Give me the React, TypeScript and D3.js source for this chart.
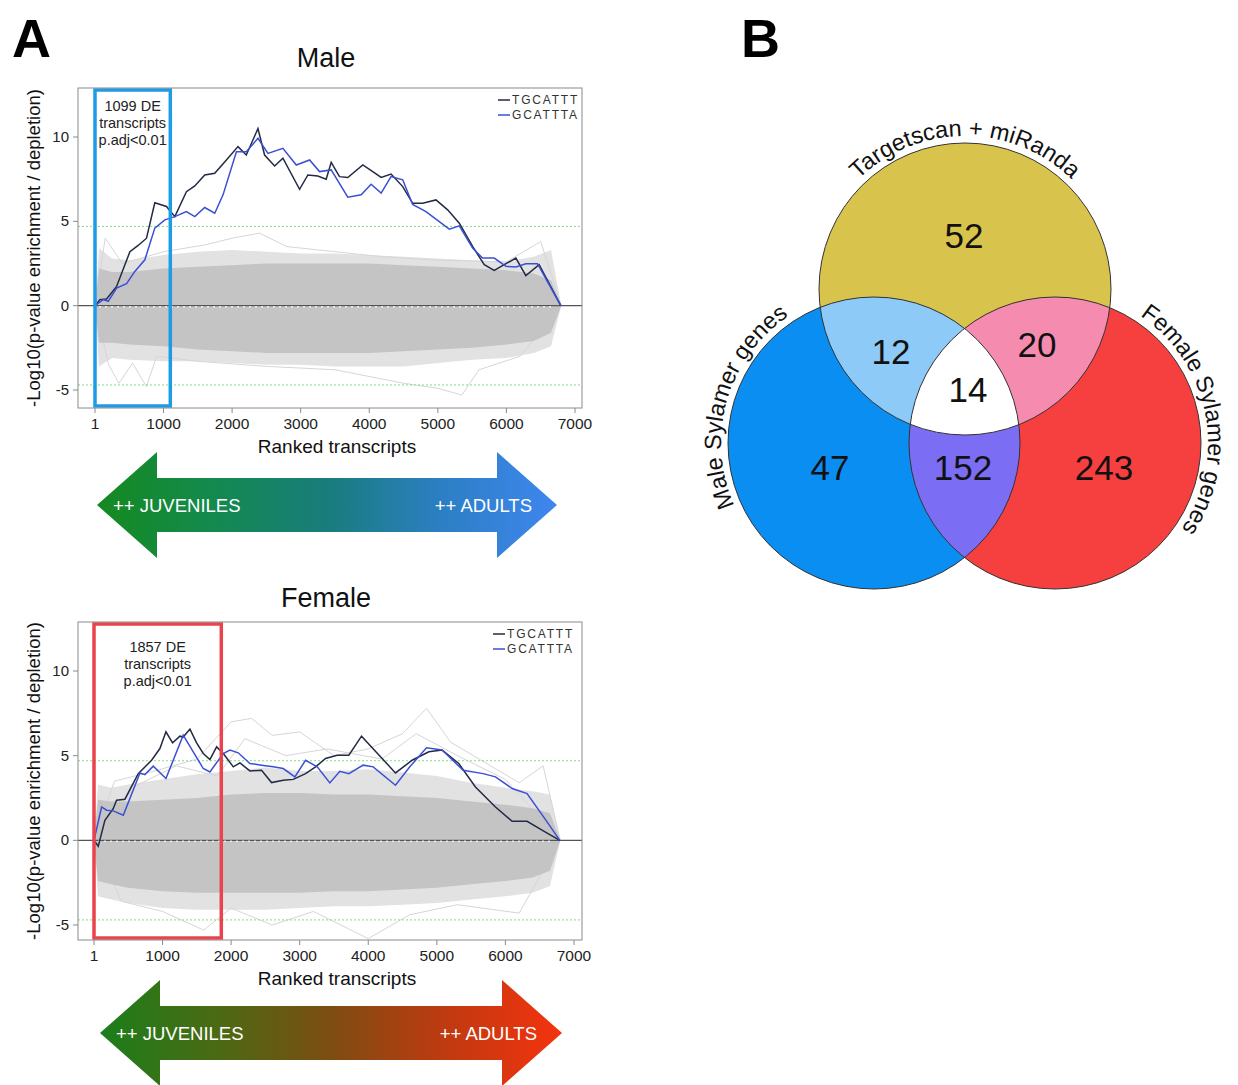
import React, { useRef, useEffect } from 'react';
import * as d3 from 'd3';

// ---- Sylamer curves as [rank, -log10 p] pairs ----
const maleTGCATTT: [number, number][] = [
  [1, 0], [73, 0.36], [170, 0.4], [316, 1.14], [510, 3.2], [630, 3.57], [752, 4.0], [873, 6.1],
  [1043, 5.88], [1165, 5.28], [1334, 6.76], [1456, 7.1], [1601, 7.75], [1747, 7.85], [1917, 8.64],
  [2086, 9.43], [2207, 8.93], [2377, 10.5], [2474, 8.93], [2620, 8.28], [2741, 8.74], [2984, 6.9],
  [3105, 7.75], [3250, 7.69], [3372, 7.5], [3445, 8.5], [3566, 7.65], [3687, 7.6], [3906, 8.34],
  [4051, 7.95], [4173, 7.6], [4318, 7.8], [4488, 7.06], [4633, 6.07], [4779, 6.07], [4973, 6.27],
  [5143, 5.68], [5313, 4.89], [5507, 3.51], [5677, 2.43], [5822, 2.09], [5968, 2.43], [6138, 2.82],
  [6283, 1.78], [6477, 2.43], [6793, 0],
];
const maleGCATTTA: [number, number][] = [
  [1, 0], [120, 0.36], [194, 0.26], [316, 1.04], [461, 1.3], [582, 2.03], [728, 2.72], [873, 4.6],
  [1019, 5.09], [1165, 5.28], [1334, 5.58], [1456, 5.28], [1601, 5.82], [1747, 5.48], [1868, 6.57],
  [2063, 9.13], [2207, 9.13], [2377, 9.92], [2523, 9.03], [2741, 9.33], [2936, 8.34], [3130, 8.64],
  [3275, 7.95], [3445, 8.05], [3687, 6.43], [3882, 6.57], [4027, 7.2], [4173, 6.67], [4318, 7.65],
  [4488, 7.46], [4633, 6.0], [4827, 5.58], [5167, 4.54], [5313, 4.73], [5507, 3.41], [5652, 2.82],
  [5822, 2.82], [5992, 2.33], [6138, 2.29], [6283, 2.49], [6453, 2.49], [6793, 0],
];
const femaleTGCATTT: [number, number][] = [
  [1, 0], [63, -0.35], [160, 1.18], [281, 1.87], [330, 2.37], [452, 2.43], [646, 3.94], [841, 4.73],
  [962, 5.42], [1050, 6.41], [1147, 5.76], [1254, 6.15], [1302, 6.1], [1400, 6.57], [1497, 5.76],
  [1594, 5.13], [1691, 4.77], [1789, 5.52], [1886, 5.13], [2032, 4.34], [2129, 4.57], [2274, 4.1],
  [2444, 4.14], [2590, 3.41], [2760, 3.55], [2906, 3.6], [3086, 3.94], [3232, 4.34], [3377, 4.83],
  [3547, 5.03], [3717, 5.03], [3902, 6.15], [4397, 3.98], [4640, 4.73], [4883, 5.23], [5077, 5.33],
  [5320, 4.54], [5563, 3.15], [5855, 1.97], [6098, 1.12], [6316, 1.12], [6584, 0.49], [6793, 0],
];
const femaleGCATTTA: [number, number][] = [
  [1, 0], [112, 1.97], [185, 1.78], [281, 1.74], [428, 1.48], [671, 3.98], [743, 3.88], [865, 4.38],
  [1050, 3.65], [1302, 6.21], [1448, 5.23], [1594, 4.24], [1691, 4.04], [1886, 5.13], [1983, 5.33],
  [2104, 5.17], [2274, 4.54], [2444, 4.44], [2614, 4.34], [2760, 4.24], [2930, 3.75], [3086, 4.73],
  [3256, 4.34], [3440, 3.39], [3586, 4.08], [3717, 3.94], [3926, 4.44], [4072, 4.34], [4397, 3.25],
  [4606, 4.34], [4849, 5.46], [5077, 5.33], [5383, 4.14], [5675, 3.94], [5855, 3.75], [6098, 3.06],
  [6316, 2.76], [6574, 1.28], [6793, 0],
];

// ---- background words: envelope of the grey cloud ----
const bandRanks = [1, 60, 250, 500, 1000, 1500, 2000, 2500, 3000, 3500, 4000, 4500, 5000, 5500, 6000, 6400, 6650, 6800];
const maleCoreUp = [0, 2.2, 2.0, 2.0, 2.2, 2.3, 2.4, 2.5, 2.5, 2.5, 2.5, 2.4, 2.3, 2.2, 2.1, 1.9, 1.5, 0];
const maleCoreLow = [0, -2.2, -2.2, -2.3, -2.4, -2.6, -2.7, -2.8, -2.8, -2.8, -2.8, -2.7, -2.6, -2.5, -2.3, -2.1, -1.6, 0];
const maleHaloUp = [0, 3.4, 2.8, 2.7, 3.0, 3.2, 3.3, 3.2, 3.1, 3.1, 3.0, 2.9, 2.8, 2.7, 2.6, 2.9, 3.3, 0];
const maleHaloLow = [0, -3.6, -3.1, -3.2, -3.3, -3.3, -3.4, -3.5, -3.5, -3.6, -3.6, -3.6, -3.4, -3.2, -3.1, -2.8, -2.4, 0];
const femaleCoreUp = [0, 2.4, 2.3, 2.3, 2.4, 2.5, 2.7, 2.8, 2.8, 2.7, 2.7, 2.6, 2.5, 2.3, 2.1, 1.9, 1.6, 0];
const femaleCoreLow = [0, -2.4, -2.6, -2.8, -3.0, -3.1, -3.1, -3.1, -3.1, -3.0, -3.0, -2.9, -2.8, -2.6, -2.4, -2.2, -1.8, 0];
const femaleHaloUp = [0, 3.3, 3.1, 3.3, 3.6, 3.9, 4.1, 4.3, 4.1, 4.1, 4.2, 4.0, 3.8, 3.4, 3.1, 2.9, 2.7, 0];
const femaleHaloLow = [0, -3.3, -3.5, -3.7, -4.0, -4.1, -4.1, -4.1, -4.0, -3.9, -3.9, -3.8, -3.7, -3.5, -3.3, -3.1, -2.7, 0];

// a few stray grey words that stick out of the cloud
const maleOutliers: [number, number][][] = [
  [[1, 0], [150, 4.0], [400, 2.5], [1000, 3.2], [1600, 3.6], [2000, 4.0], [2400, 4.3], [2800, 3.5], [3500, 3.2], [4200, 2.9], [5000, 2.7], [6000, 2.6], [6500, 3.8], [6800, 0]],
  [[1, 0], [200, -3.5], [350, -4.6], [550, -3.4], [750, -4.8], [900, -3.0], [1500, -3.3], [2500, -3.6], [3500, -3.8], [4500, -4.6], [5000, -4.9], [5350, -5.3], [5600, -3.8], [6200, -3.0], [6800, 0]],
];
const femaleOutliers: [number, number][][] = [
  [[1, 0], [300, 3.5], [800, 4.0], [1500, 4.8], [2000, 7.0], [2300, 7.2], [2600, 6.2], [3000, 6.4], [3500, 5.0], [4000, 5.4], [4500, 6.3], [4850, 7.8], [5200, 5.8], [5700, 4.6], [6200, 3.4], [6550, 4.4], [6800, 0]],
  [[1, 0], [600, 3.2], [1200, 4.4], [1800, 3.8], [2200, 6.0], [2800, 5.0], [3400, 5.4], [4200, 4.8], [4700, 6.3], [5300, 5.0], [6000, 3.6], [6800, 0]],
  [[1, 0], [400, -3.6], [1000, -4.2], [1600, -5.3], [2000, -4.0], [2600, -5.0], [3200, -4.2], [3700, -5.2], [4000, -5.8], [4600, -4.4], [5300, -3.8], [6200, -4.3], [6800, 0]],
];

const xTicks = [1, 1000, 2000, 3000, 4000, 5000, 6000, 7000];
const yTicks = [-5, 0, 5, 10];
const seriesNames = ['TGCATTT', 'GCATTTA'];
const seriesColors = ['#232a45', '#3a4fd6'];
const maleDE = 1099;
const femaleDE = 1857;

// ---- Venn ----
const vennNames = ['Targetscan + miRanda', 'Male Sylamer genes', 'Female Sylamer genes'];
// order: T only, T∩M, T∩F, all three, M only, M∩F, F only
const vennCounts = [52, 12, 20, 14, 47, 152, 243];

const FONT = '"Liberation Sans", Arial, sans-serif';

const App = () => {
  const svgRef = useRef(null);

  useEffect(() => {
    const svg = d3.select(svgRef.current);
    svg.selectAll('*').remove();
    const defs = svg.append('defs');

    const drawPanel = (p) => {
      const g = svg.append('g');
      const x = d3.scaleLinear().domain([1, 7000]).range(p.xRange);
      const y = d3.scaleLinear().domain([-5, 10]).range(p.yRange);
      const f = p.frame;

      g.append('text').attr('x', 326).attr('y', p.titleY).attr('text-anchor', 'middle')
        .attr('font-size', 27).attr('fill', '#111').text(p.title);

      // grey cloud
      const area = d3.area<number>().x((d, i) => x(bandRanks[i]));
      g.append('path').attr('fill', '#e2e2e2')
        .attr('d', area.y0((d, i) => y(p.haloLow[i])).y1((d, i) => y(p.haloUp[i]))(bandRanks));
      const line = d3.line<[number, number]>().x((d) => x(d[0])).y((d) => y(d[1]));
      p.outliers.forEach((o) => {
        g.append('path').attr('d', line(o)).attr('fill', 'none').attr('stroke', '#d6d6d6').attr('stroke-width', 1);
      });
      g.append('path').attr('fill', '#c4c4c4')
        .attr('d', area.y0((d, i) => y(p.coreLow[i])).y1((d, i) => y(p.coreUp[i]))(bandRanks));

      // threshold lines
      [4.7, -4.7].forEach((v) => {
        g.append('line').attr('x1', f.x0).attr('x2', f.x1).attr('y1', y(v)).attr('y2', y(v))
          .attr('stroke', '#7ee07e').attr('stroke-width', 1).attr('stroke-dasharray', '2,2');
      });
      g.append('line').attr('x1', f.x0).attr('x2', f.x1).attr('y1', y(0)).attr('y2', y(0))
        .attr('stroke', '#555').attr('stroke-width', 1.2);
      g.append('line').attr('x1', x(60)).attr('x2', x(6700)).attr('y1', y(0) + 1).attr('y2', y(0) + 1)
        .attr('stroke', '#ffffff').attr('stroke-width', 1.5).attr('stroke-dasharray', '2,4').attr('opacity', 0.8);

      // series
      p.series.forEach((s, i) => {
        g.append('path').attr('d', line(s)).attr('fill', 'none')
          .attr('stroke', seriesColors[i]).attr('stroke-width', 1.5);
      });

      // DE box
      g.append('rect').attr('x', x(1)).attr('y', f.y0 + 2)
        .attr('width', x(p.de) - x(1)).attr('height', f.y1 - f.y0 - 4)
        .attr('fill', 'none').attr('stroke', p.boxColor).attr('stroke-width', 3.5);
      const cx = (x(1) + x(p.de)) / 2;
      [`${p.de} DE`, 'transcripts', 'p.adj<0.01'].forEach((t, i) => {
        g.append('text').attr('x', cx).attr('y', p.boxTextY + i * 17).attr('text-anchor', 'middle')
          .attr('font-size', 14.5).attr('fill', '#222').text(t);
      });

      // frame + axes
      g.append('rect').attr('x', f.x0).attr('y', f.y0).attr('width', f.x1 - f.x0).attr('height', f.y1 - f.y0)
        .attr('fill', 'none').attr('stroke', '#8a8a8a').attr('stroke-width', 1);
      yTicks.forEach((t) => {
        g.append('line').attr('x1', f.x0 - 5).attr('x2', f.x0).attr('y1', y(t)).attr('y2', y(t)).attr('stroke', '#8a8a8a');
        g.append('text').attr('x', f.x0 - 9).attr('y', y(t) + 5).attr('text-anchor', 'end')
          .attr('font-size', 15).attr('fill', '#222').text(t);
      });
      xTicks.forEach((t) => {
        g.append('line').attr('x1', x(t)).attr('x2', x(t)).attr('y1', f.y1).attr('y2', f.y1 + 5).attr('stroke', '#8a8a8a');
        g.append('text').attr('x', x(t)).attr('y', f.y1 + 21).attr('text-anchor', 'middle')
          .attr('font-size', 15.5).attr('fill', '#222').text(t);
      });
      g.append('text').attr('x', 337).attr('y', f.y1 + 45).attr('text-anchor', 'middle')
        .attr('font-size', 19).attr('fill', '#111').text('Ranked transcripts');
      g.append('text').attr('transform', `translate(40,${(f.y0 + f.y1) / 2}) rotate(-90)`)
        .attr('text-anchor', 'middle').attr('font-size', 18.5).attr('fill', '#111')
        .text('-Log10(p-value enrichment / depletion)');

      // legend
      seriesNames.forEach((n, i) => {
        const ly = p.legendY + i * 15;
        g.append('line').attr('x1', p.legendX).attr('x2', p.legendX + 12).attr('y1', ly).attr('y2', ly)
          .attr('stroke', seriesColors[i]).attr('stroke-width', 1.5);
        g.append('text').attr('x', p.legendX + 14).attr('y', ly + 4).attr('font-size', 12)
          .attr('letter-spacing', 1.8).attr('fill', '#333').text(n);
      });

      // double arrow
      const a = p.arrow;
      const grad = defs.append('linearGradient').attr('id', p.gradId).attr('gradientUnits', 'userSpaceOnUse')
        .attr('x1', a.x0).attr('x2', a.x1).attr('y1', 0).attr('y2', 0);
      p.gradStops.forEach((c, i) => {
        grad.append('stop').attr('offset', i / (p.gradStops.length - 1)).attr('stop-color', c);
      });
      const pts = [
        [a.x0, a.cy], [a.x0 + 60, a.cy - 53], [a.x0 + 60, a.cy - 27], [a.x1 - 60, a.cy - 27], [a.x1 - 60, a.cy - 53],
        [a.x1, a.cy], [a.x1 - 60, a.cy + 53], [a.x1 - 60, a.cy + 27], [a.x0 + 60, a.cy + 27], [a.x0 + 60, a.cy + 53],
      ];
      g.append('path').attr('d', d3.line()(pts as [number, number][]) + 'Z').attr('fill', `url(#${p.gradId})`);
      g.append('text').attr('x', a.x0 + 16).attr('y', a.cy + 7).attr('font-size', 18.5).attr('fill', '#fff')
        .text('++ JUVENILES');
      g.append('text').attr('x', a.x1 - 25).attr('y', a.cy + 7).attr('text-anchor', 'end').attr('font-size', 18.5)
        .attr('fill', '#fff').text('++ ADULTS');
    };

    svg.attr('font-family', FONT);

    drawPanel({
      title: 'Male', titleY: 67, frame: { x0: 78, x1: 582, y0: 88, y1: 408 },
      xRange: [95, 575], yRange: [390, 137],
      coreUp: maleCoreUp, coreLow: maleCoreLow, haloUp: maleHaloUp, haloLow: maleHaloLow,
      outliers: maleOutliers, series: [maleTGCATTT, maleGCATTTA],
      de: maleDE, boxColor: '#1c9be8', boxTextY: 111, legendX: 498, legendY: 100,
      arrow: { x0: 97, x1: 557, cy: 505 }, gradId: 'gMale',
      gradStops: ['#15891f', '#138a4e', '#197c7c', '#2c7fc4', '#3f86ef'],
    });
    drawPanel({
      title: 'Female', titleY: 607, frame: { x0: 78, x1: 582, y0: 622, y1: 940 },
      xRange: [94, 574], yRange: [925, 671],
      coreUp: femaleCoreUp, coreLow: femaleCoreLow, haloUp: femaleHaloUp, haloLow: femaleHaloLow,
      outliers: femaleOutliers, series: [femaleTGCATTT, femaleGCATTTA],
      de: femaleDE, boxColor: '#ea434b', boxTextY: 652, legendX: 493, legendY: 634,
      arrow: { x0: 100, x1: 562, cy: 1033 }, gradId: 'gFemale',
      gradStops: ['#1b7e1a', '#4a6a14', '#7d4d12', '#c03a10', '#f4330f'],
    });

    // panel letters
    svg.append('text').attr('x', 12).attr('y', 57).attr('font-size', 54).attr('font-weight', 'bold').text('A');
    svg.append('text').attr('x', 741).attr('y', 57).attr('font-size', 54).attr('font-weight', 'bold').text('B');

    // ---- Venn diagram ----
    const r = 146;
    const circles = [
      { cx: 965, cy: 289, fill: '#d8c44c' },
      { cx: 874, cy: 443, fill: '#0b8ef2' },
      { cx: 1055, cy: 443, fill: '#f63f3f' },
    ];
    circles.forEach((c, i) => {
      defs.append('clipPath').attr('id', `vc${i}`).append('circle').attr('cx', c.cx).attr('cy', c.cy).attr('r', r);
    });
    const vg = svg.append('g');
    circles.forEach((c) => vg.append('circle').attr('cx', c.cx).attr('cy', c.cy).attr('r', r).attr('fill', c.fill));
    const overlap = (clip: number, idx: number, fill: string, parent = vg) =>
      parent.append('g').attr('clip-path', `url(#vc${clip})`).append('circle')
        .attr('cx', circles[idx].cx).attr('cy', circles[idx].cy).attr('r', r).attr('fill', fill);
    overlap(2, 1, '#7c6df5');
    overlap(1, 0, '#8dcaf7');
    overlap(2, 0, '#f68bb0');
    overlap(2, 0, '#ffffff', vg.append('g').attr('clip-path', 'url(#vc1)'));
    circles.forEach((c) => vg.append('circle').attr('cx', c.cx).attr('cy', c.cy).attr('r', r)
      .attr('fill', 'none').attr('stroke', '#333').attr('stroke-width', 1));

    const countPos = [[964, 236], [891, 352], [1037, 345], [968, 390], [830, 468], [963, 468], [1104, 468]];
    vennCounts.forEach((v, i) => {
      vg.append('text').attr('x', countPos[i][0]).attr('y', countPos[i][1] + 12).attr('text-anchor', 'middle')
        .attr('font-size', 35).attr('fill', '#111').text(v);
    });

    // set names along arcs
    const labelAngle = [270, 196, 349];
    vennNames.forEach((n, i) => {
      const c = circles[i];
      const R = r + 7;
      const a0 = ((labelAngle[i] - 90) * Math.PI) / 180;
      const a1 = ((labelAngle[i] + 90) * Math.PI) / 180;
      const d = `M${c.cx + R * Math.cos(a0)},${c.cy + R * Math.sin(a0)} A${R},${R} 0 0 1 ${c.cx + R * Math.cos(a1)},${c.cy + R * Math.sin(a1)}`;
      defs.append('path').attr('id', `arc${i}`).attr('d', d);
      vg.append('text').attr('font-size', 23.5).attr('fill', '#111')
        .append('textPath').attr('href', `#arc${i}`).attr('startOffset', '50%').attr('text-anchor', 'middle').text(n);
    });
  }, []);

  return <svg ref={svgRef} width={1238} height={1085} style={{ position: 'absolute', left: 0, top: 0, background: '#fff' }} />;
};

export default App;
